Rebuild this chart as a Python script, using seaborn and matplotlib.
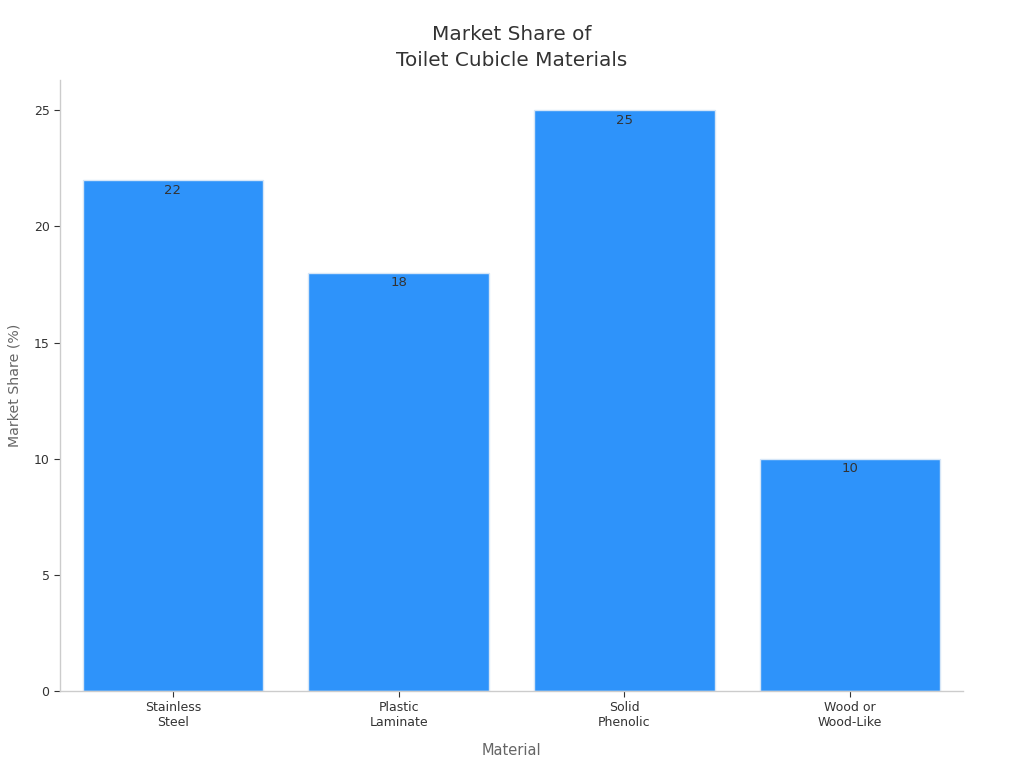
import pandas as pd
import seaborn as sns
import matplotlib.pyplot as plt

# Data
materials = ['Stainless\nSteel', 'Plastic\nLaminate', 'Solid\nPhenolic', 'Wood or\nWood-Like']
share = [22, 18, 25, 10]

df = pd.DataFrame({'Material': materials, 'Market Share (%)': share})

sns.set_theme(style='white')
plt.rcParams['font.family'] = ['DejaVu Sans']

fig = plt.figure(figsize=(10.24, 7.68), dpi=100)
ax = fig.add_axes([60 / 1024, 77 / 768, 903 / 1024, 611 / 768])

sns.barplot(data=df, x='Material', y='Market Share (%)', color='#2E93FA',
            saturation=1, width=0.8, edgecolor='#d6e6f7', linewidth=1, ax=ax)

# value labels just inside the top of each bar
for c in ax.containers:
    ax.bar_label(c, labels=[str(v) for v in share], padding=-12,
                 fontsize=9.5, color='#333333')

ax.set_xlim(-0.5, 3.5)
ax.set_ylim(0, 26.3)
ax.set_yticks([0, 5, 10, 15, 20, 25])

ax.set_title('Market Share of\nToilet Cubicle Materials', fontsize=14.4, color='#333333',
             pad=10, linespacing=1.45)
ax.set_xlabel('Material', fontsize=10.5, color='#666666', labelpad=10)
ax.set_ylabel('Market Share (%)', fontsize=10.2, color='#666666', labelpad=9)

ax.tick_params(axis='both', labelsize=9, colors='#333333', length=4, width=0.8,
               bottom=True, left=True)
for s in ['top', 'right']:
    ax.spines[s].set_visible(False)
for s in ['left', 'bottom']:
    ax.spines[s].set_color('#cccccc')
    ax.spines[s].set_linewidth(1)

fig.savefig('out.png', dpi=100)
